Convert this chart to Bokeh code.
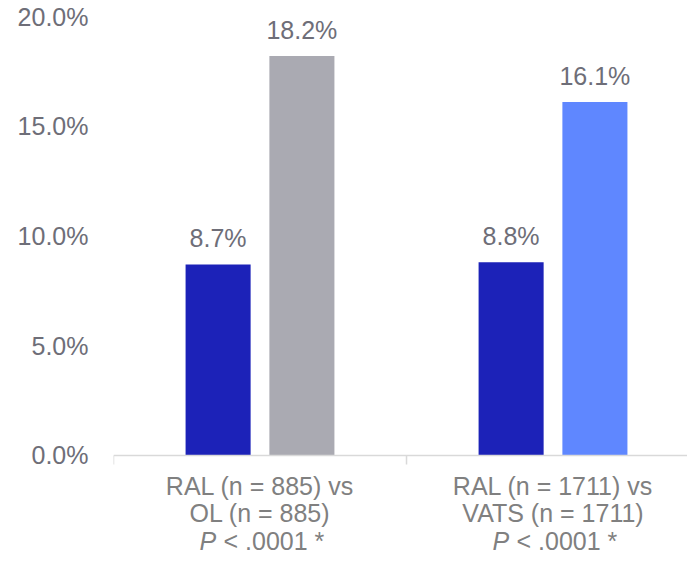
from bokeh.plotting import figure
from bokeh.models import ColumnDataSource, FixedTicker, LinearAxis, PrintfTickFormatter, Range1d, Span
from bokeh.core.properties import value
from bokeh.embed import file_html
from bokeh.resources import INLINE

# Data (percent)
groups_line1 = ["RAL (n = 885) vs", "RAL (n = 1711) vs"]
groups_line2 = ["OL (n = 885)", "VATS (n = 1711)"]
p_values = ["< .0001 *", "< .0001 *"]
ral_values = [8.7, 8.8]
comparator_values = [18.2, 16.1]
comparator_colors = ["#aaaab2", "#5f87ff"]
ral_color = "#1c22b8"
y_ticks = [0, 5, 10, 15, 20]

FONT = "Liberation Sans"
LABEL_COLOR = "#6e6e78"
CAT_COLOR = "#808080"
AXIS_COLOR = "#d9d9d9"

# frame runs down to the bottom edge so the category labels sit inside it
p = figure(width=687, height=562, output_backend="svg", toolbar_location=None,
           x_range=Range1d(0, 1.959), y_range=Range1d(-4.875, 20),
           x_axis_type=None, y_axis_type=None,
           min_border_left=113, min_border_right=0, min_border_top=16, min_border_bottom=0)
p.outline_line_color = None
p.background_fill_color = "white"
p.border_fill_color = "white"

centers = [i + 0.5 for i in range(len(ral_values))]
boundaries = list(range(len(ral_values) + 1))
offset = 0.143
bar_w = 0.222
px = 20 / 439.0  # data units per pixel on the y scale

ral_src = ColumnDataSource(dict(x=[c - offset for c in centers], top=ral_values,
                                label=[f"{v:.1f}%" for v in ral_values],
                                ly=[v + 26.5 * px for v in ral_values]))
cmp_src = ColumnDataSource(dict(x=[c + offset for c in centers], top=comparator_values,
                                color=comparator_colors,
                                label=[f"{v:.1f}%" for v in comparator_values],
                                ly=[v + 26.5 * px for v in comparator_values]))

# y axis (labels only)
yaxis = LinearAxis(ticker=FixedTicker(ticks=y_ticks), formatter=PrintfTickFormatter(format="%.1f%%"))
yaxis.axis_line_color = None
yaxis.major_tick_line_color = None
yaxis.minor_tick_line_color = None
yaxis.major_label_standoff = 19
yaxis.major_label_text_font = FONT
yaxis.major_label_text_font_size = "25px"
yaxis.major_label_text_color = LABEL_COLOR
p.add_layout(yaxis, "left")

p.ygrid.ticker = FixedTicker(ticks=y_ticks)
p.ygrid.grid_line_color = "#e0e0e0"
p.ygrid.grid_line_width = 1.5
p.xgrid.grid_line_color = None

# category baseline with boundary ticks
p.add_layout(Span(location=0, dimension="width", line_color=AXIS_COLOR, line_width=1.5))
p.segment(x0=boundaries, y0=[0] * len(boundaries), x1=boundaries, y1=[-9 * px] * len(boundaries),
          line_color=AXIS_COLOR, line_width=1.5)

p.vbar(x="x", top="top", width=bar_w, bottom=0, source=ral_src, color=ral_color, line_color=None)
p.vbar(x="x", top="top", width=bar_w, bottom=0, source=cmp_src, fill_color="color", line_color=None)

for src in (ral_src, cmp_src):
    p.text(x="x", y="ly", text="label", source=src, text_align="center", text_baseline="alphabetic",
           text_font=value(FONT), text_font_size="25px", text_color=LABEL_COLOR)

cat_src = ColumnDataSource(dict(x=centers, l1=groups_line1, l2=groups_line2, pv=p_values,
                                italic=["P"] * len(centers)))
for col, base_px in (("l1", 30.5), ("l2", 58)):
    p.text(x="x", y=-base_px * px, text=col, source=cat_src, text_align="center",
           text_baseline="alphabetic", text_font=value(FONT), text_font_size="25px", text_color=CAT_COLOR)
p.text(x="x", y=-85.5 * px, text="italic", source=cat_src, text_align="left", x_offset=-60.5,
       text_baseline="alphabetic", text_font=value(FONT), text_font_style="italic",
       text_font_size="25px", text_color=CAT_COLOR)
p.text(x="x", y=-85.5 * px, text="pv", source=cat_src, text_align="left", x_offset=-36.5,
       text_baseline="alphabetic", text_font=value(FONT), text_font_size="25px", text_color=CAT_COLOR)

open("out.html", "w").write(file_html(p, INLINE))
